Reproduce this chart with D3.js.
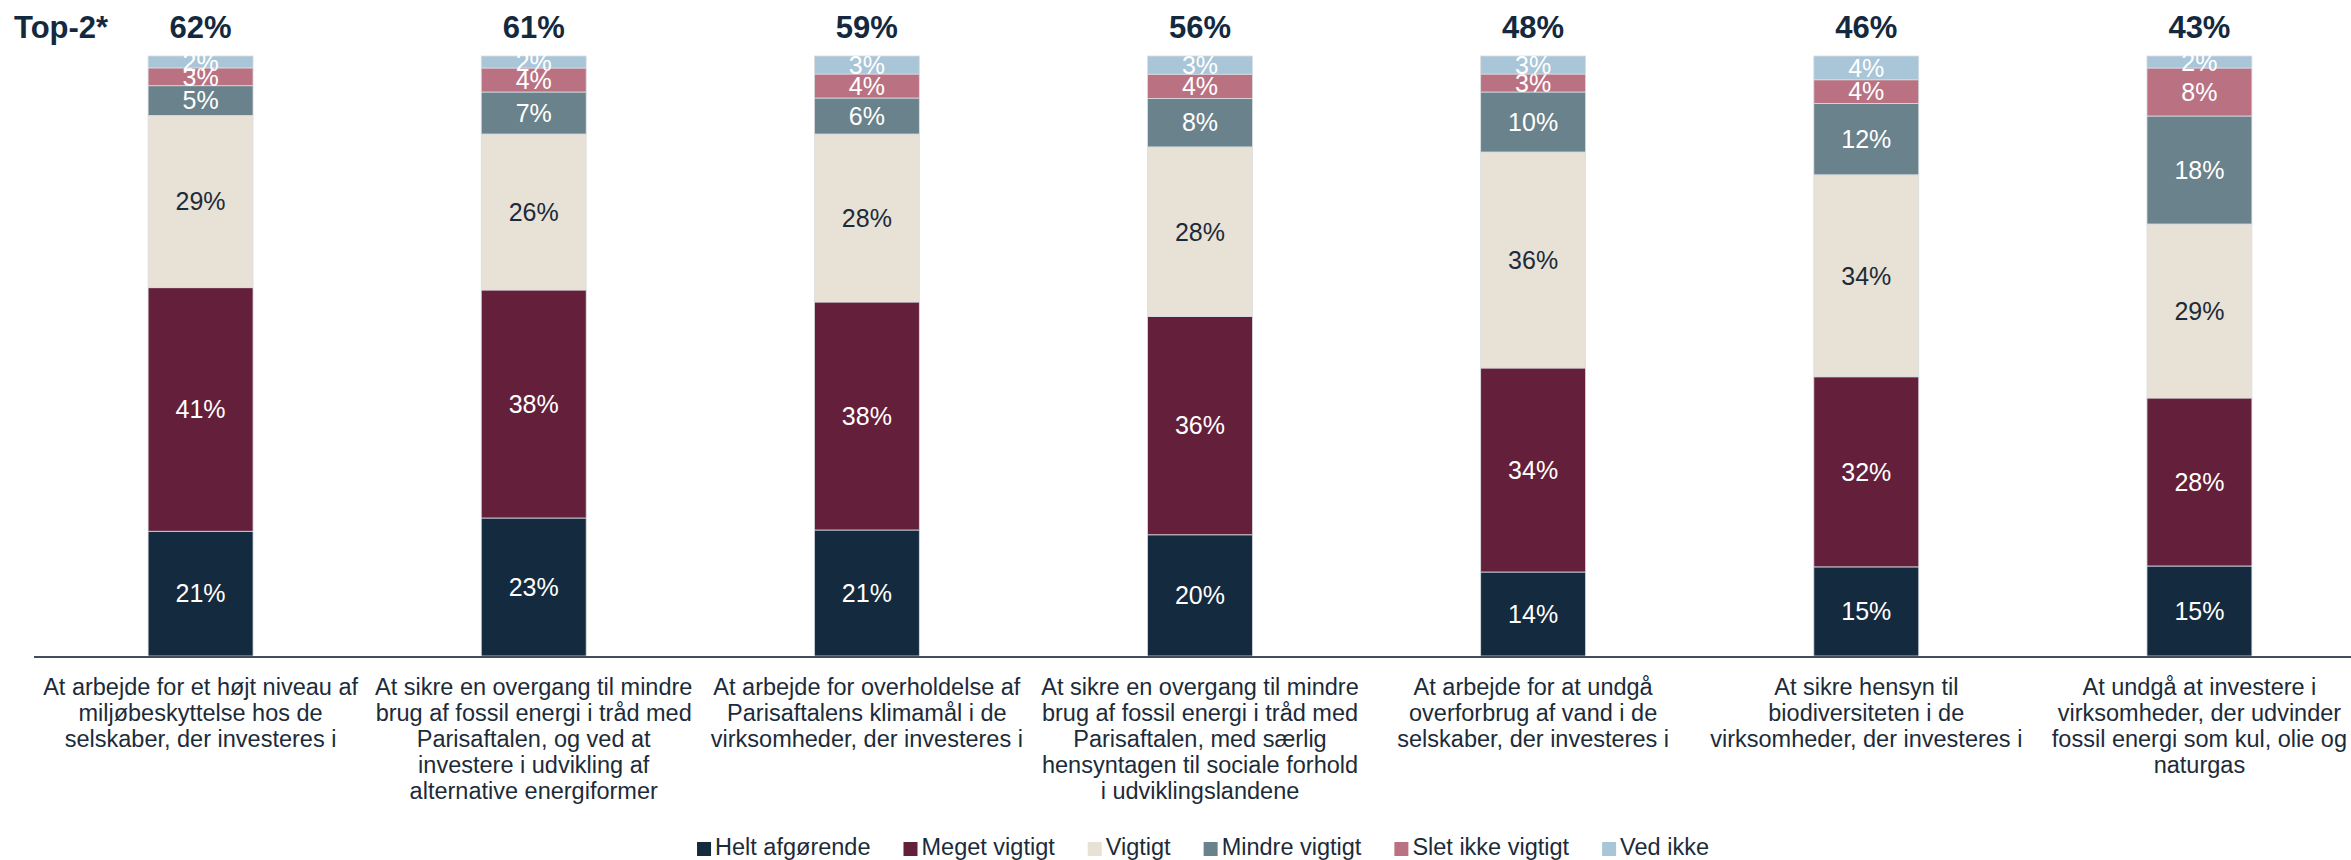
<!DOCTYPE html>
<html>
<head>
<meta charset="utf-8">
<script src="https://cdn.jsdelivr.net/npm/d3@7"></script>
<style>
  body { margin: 0; background: #fff; }
  text { font-family: "Liberation Sans", Arial, sans-serif; }
</style>
</head>
<body>
<script>
// categories (line breaks as in the original)
var categories = [
  "At arbejde for et højt niveau af\nmiljøbeskyttelse hos de\nselskaber, der investeres i",
  "At sikre en overgang til mindre\nbrug af fossil energi i tråd med\nParisaftalen, og ved at\ninvestere i udvikling af\nalternative energiformer",
  "At arbejde for overholdelse af\nParisaftalens klimamål i de\nvirksomheder, der investeres i",
  "At sikre en overgang til mindre\nbrug af fossil energi i tråd med\nParisaftalen, med særlig\nhensyntagen til sociale forhold\ni udviklingslandene",
  "At arbejde for at undgå\noverforbrug af vand i de\nselskaber, der investeres i",
  "At sikre hensyn til\nbiodiversiteten i de\nvirksomheder, der investeres i",
  "At undgå at investere i\nvirksomheder, der udvinder\nfossil energi som kul, olie og\nnaturgas"
];
var top2 = [62, 61, 59, 56, 48, 46, 43];

var seriesNames = ["Helt afgørende", "Meget vigtigt", "Vigtigt", "Mindre vigtigt", "Slet ikke vigtigt", "Ved ikke"];
var heltAfgoerende = [21, 23, 21, 20, 14, 15, 15];
var megetVigtigt   = [41, 38, 38, 36, 34, 32, 28];
var vigtigt        = [29, 26, 28, 28, 36, 34, 29];
var mindreVigtigt  = [5, 7, 6, 8, 10, 12, 18];
var sletIkke       = [3, 4, 4, 4, 3, 4, 8];
var vedIkke        = [2, 2, 3, 3, 3, 4, 2];

var colors = ["#142a3e", "#641f3b", "#e8e1d6", "#6a828b", "#ba7282", "#a8c6d7"];
var labelColors = ["#fff", "#fff", "#1c2b39", "#fff", "#fff", "#fff"];

var seriesVals = [heltAfgoerende, megetVigtigt, vigtigt, mindreVigtigt, sletIkke, vedIkke];
var rows = categories.map(function(c, i){
  var r = {cat: c};
  seriesNames.forEach(function(s, j){ r[s] = seriesVals[j][i]; });
  return r;
});

var W = 2351, H = 860;
var svg = d3.select("body").append("svg")
  .attr("width", W)
  .attr("height", H);

var x = d3.scaleBand()
  .domain(categories)
  .range([34, 2366])
  .padding(0);
var barW = x.bandwidth() * 0.315;

var y = d3.scaleLinear()
  .domain([0, 1])
  .range([656, 56]);

var stacked = d3.stack()
  .keys(seriesNames)
  .offset(d3.stackOffsetExpand)(rows);

var groups = svg.selectAll("g.series")
  .data(stacked)
  .enter().append("g")
  .attr("class", "series")
  .attr("fill", function(d, i){ return colors[i]; });

groups.selectAll("rect")
  .data(function(d){ return d; })
  .enter().append("rect")
  .attr("x", function(d){ return x(d.data.cat) + (x.bandwidth() - barW) / 2; })
  .attr("width", barW)
  .attr("y", function(d){ return y(d[1]); })
  .attr("height", function(d){ return y(d[0]) - y(d[1]); })
  .attr("stroke", "#d9dde2")
  .attr("stroke-width", 0.8);

groups.selectAll("text")
  .data(function(d, i){ return d.map(function(p){ return {p: p, i: i, key: d.key}; }); })
  .enter().append("text")
  .attr("x", function(d){ return x(d.p.data.cat) + x.bandwidth() / 2; })
  .attr("y", function(d){ return (y(d.p[0]) + y(d.p[1])) / 2; })
  .attr("dy", "0.35em")
  .attr("text-anchor", "middle")
  .attr("font-size", 25)
  .attr("fill", function(d){ return labelColors[d.i]; })
  .text(function(d){ return d.p.data[d.key] + "%"; });

// baseline
svg.append("line")
  .attr("x1", 34).attr("x2", 2366)
  .attr("y1", y(0) + 1).attr("y2", y(0) + 1)
  .attr("stroke", "#3f4d5c")
  .attr("stroke-width", 2);

// top-2 sums
svg.append("text")
  .attr("x", 14).attr("y", 38)
  .attr("font-size", 31)
  .attr("font-weight", "bold")
  .attr("fill", "#14293d")
  .text("Top-2*");

svg.selectAll("text.top2")
  .data(categories)
  .enter().append("text")
  .attr("class", "top2")
  .attr("x", function(d){ return x(d) + x.bandwidth() / 2; })
  .attr("y", 38)
  .attr("text-anchor", "middle")
  .attr("font-size", 31)
  .attr("font-weight", "bold")
  .attr("fill", "#14293d")
  .text(function(d, i){ return top2[i] + "%"; });

// category labels
var cl = svg.selectAll("text.cat")
  .data(categories)
  .enter().append("text")
  .attr("class", "cat")
  .attr("text-anchor", "middle")
  .attr("font-size", 23.5)
  .attr("fill", "#1c2b39");
cl.selectAll("tspan")
  .data(function(d){ return d.split("\n").map(function(t){ return {t: t, c: d}; }); })
  .enter().append("tspan")
  .attr("x", function(d){ return x(d.c) + x.bandwidth() / 2; })
  .attr("y", function(d, i){ return 695 + i * 26; })
  .text(function(d){ return d.t; });

// legend
var legend = svg.append("g");
var lx = 0;
seriesNames.forEach(function(s, i){
  var g = legend.append("g").attr("transform", "translate(" + lx + ",0)");
  g.append("rect")
    .attr("x", 0).attr("y", -13)
    .attr("width", 14).attr("height", 14)
    .attr("fill", colors[i]);
  var t = g.append("text")
    .attr("x", 18).attr("y", 0)
    .attr("font-size", 23.5)
    .attr("fill", "#1c2b39")
    .text(s);
  lx += 18 + t.node().getComputedTextLength() + 33;
});
var lw = lx - 33;
legend.attr("transform", "translate(" + (1203 - lw / 2) + ",855)");
</script>
</body>
</html>
